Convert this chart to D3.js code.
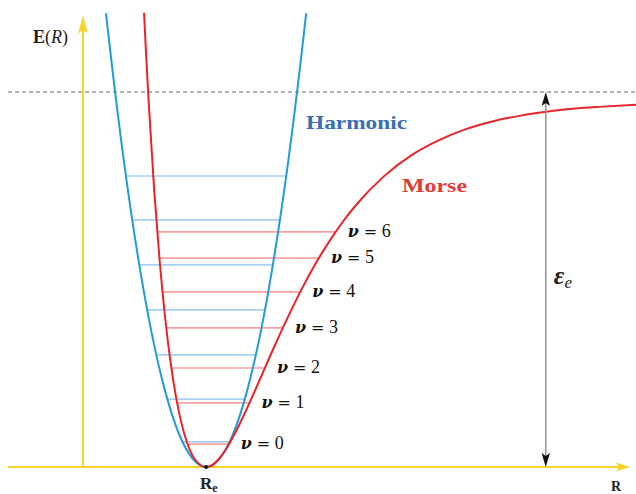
<!DOCTYPE html>
<html>
<head>
<meta charset="utf-8">
<script src="https://cdn.jsdelivr.net/npm/d3@7/dist/d3.min.js"></script>
<style>
  html, body { margin: 0; padding: 0; background: #fff; }
  svg { display: block; }
  text { font-family: "Liberation Serif", "DejaVu Serif", serif; }
</style>
</head>
<body>
<svg id="chart" width="636" height="494"></svg>
<script>
// Internuclear distance R (arbitrary units) and energy E in units of the well depth ε_e
const morseR = [1.116, 1.15, 1.2, 1.3, 1.4, 1.5, 1.6, 1.7, 1.8, 1.9, 2.0, 2.1, 2.2, 2.25,
                2.3, 2.4, 2.5, 2.6, 2.8, 3.0, 3.25, 3.5, 3.75, 4.0, 4.25, 4.5, 4.75, 5.0,
                5.5, 6.0, 6.5, 7.0, 7.5, 8.0, 8.5, 9.0, 9.5, 10.2];
const morseE = [1.211, 1.110, 0.975, 0.741, 0.552, 0.400, 0.280, 0.187, 0.117, 0.066, 0.031, 0.011, 0.001, 0,
                0.001, 0.009, 0.024, 0.044, 0.096, 0.157, 0.239, 0.322, 0.401, 0.475, 0.542, 0.601, 0.654, 0.700,
                0.775, 0.831, 0.871, 0.901, 0.922, 0.937, 0.948, 0.956, 0.961, 0.967];

const harmonicR = [0.42, 0.5, 0.75, 1.0, 1.25, 1.5, 1.75, 2.0, 2.25, 2.5, 2.75, 3.0, 3.25, 3.5, 3.75, 4.0, 4.08];
const harmonicE = [1.210, 1.107, 0.813, 0.565, 0.361, 0.203, 0.090, 0.023, 0, 0.023, 0.090, 0.203, 0.361, 0.565, 0.813, 1.107, 1.210];

// Vibrational energy levels
const harmonicLevels = [0.067, 0.181, 0.299, 0.419, 0.539, 0.659, 0.776];
const morseLevels = [0.061, 0.171, 0.264, 0.371, 0.467, 0.557, 0.627];
const quantumNumbers = ["0", "1", "2", "3", "4", "5", "6"];

const Re = 2.25;          // equilibrium distance
const dissociation = 1;   // energy of the dissociation limit
const epsArrowR = 8.46;   // where the well-depth arrow stands
const axisTopE = 1.205;
const axisLeftR = -1.37;

const svg = d3.select("#chart");
const W = 636, H = 494;

const x = d3.scaleLinear().domain([0, 10]).range([83, 630]);
const y = d3.scaleLinear().domain([0, 1]).range([467, 92]);

const yellow = "#fdd22b";
const blue = "#229bd6";
const red = "#e8242b";
const lightBlue = "#a6d1ef";
const lightRed = "#f6a2a2";

// R where a tabulated curve crosses energy e (first and last crossing)
function crossings(rs, es, e) {
  const hits = [];
  for (let i = 0; i < rs.length - 1; i++) {
    const a = es[i] - e, b = es[i + 1] - e;
    if (a === 0) hits.push(rs[i]);
    else if (a * b < 0) hits.push(rs[i] + (rs[i + 1] - rs[i]) * a / (a - b));
  }
  return [hits[0], hits[hits.length - 1]];
}

// Dissociation limit (dashed)
svg.append("line")
  .attr("x1", x(axisLeftR)).attr("x2", W)
  .attr("y1", y(dissociation)).attr("y2", y(dissociation))
  .attr("stroke", "#666").attr("stroke-width", 1.1)
  .attr("stroke-dasharray", "4,3");

// Axes
svg.append("line")
  .attr("x1", x(axisLeftR)).attr("x2", x(10) - 10)
  .attr("y1", y(0)).attr("y2", y(0))
  .attr("stroke", yellow).attr("stroke-width", 2);
svg.append("path")
  .attr("d", `M${x(10)},${y(0)} L${x(10) - 14},${y(0) - 4.5} L${x(10) - 11},${y(0)} L${x(10) - 14},${y(0) + 4.5} Z`)
  .attr("fill", yellow);

svg.append("line")
  .attr("x1", x(0)).attr("x2", x(0))
  .attr("y1", y(0)).attr("y2", y(axisTopE) + 12)
  .attr("stroke", yellow).attr("stroke-width", 2);
svg.append("path")
  .attr("d", `M${x(0)},${y(axisTopE)} L${x(0) - 4.8},${y(axisTopE) + 18} L${x(0)},${y(axisTopE) + 15} L${x(0) + 4.8},${y(axisTopE) + 18} Z`)
  .attr("fill", yellow);

// Energy levels
const hLevels = harmonicLevels.map(e => ({ e, r: crossings(harmonicR, harmonicE, e) }));
const mLevels = morseLevels.map((e, i) => ({ e, r: crossings(morseR, morseE, e), n: quantumNumbers[i] }));

svg.append("g").selectAll("line").data(hLevels).join("line")
  .attr("x1", d => x(d.r[0])).attr("x2", d => x(d.r[1]))
  .attr("y1", d => y(d.e)).attr("y2", d => y(d.e))
  .attr("stroke", lightBlue).attr("stroke-width", 1.6);

svg.append("g").selectAll("line").data(mLevels).join("line")
  .attr("x1", d => x(d.r[0])).attr("x2", d => x(d.r[1]))
  .attr("y1", d => y(d.e)).attr("y2", d => y(d.e))
  .attr("stroke", lightRed).attr("stroke-width", 1.6);

// Potential curves
const line = d3.line().x(d => x(d[0])).y(d => y(d[1])).curve(d3.curveMonotoneX);

svg.append("path")
  .datum(d3.zip(harmonicR, harmonicE))
  .attr("d", line)
  .attr("fill", "none").attr("stroke", blue).attr("stroke-width", 2);

svg.append("path")
  .datum(d3.zip(morseR, morseE))
  .attr("d", line)
  .attr("fill", "none").attr("stroke", red).attr("stroke-width", 2);

svg.append("circle")
  .attr("cx", x(Re)).attr("cy", y(0)).attr("r", 2)
  .attr("fill", "#111");

// Level labels ν = n
const labels = svg.append("g").selectAll("text").data(mLevels).join("text")
  .attr("x", d => x(d.r[1]) + 12)
  .attr("y", d => y(d.e) + 5)
  .attr("font-size", 18)
  .attr("fill", "#111");
labels.append("tspan")
  .attr("font-family", "DejaVu Serif").attr("font-size", 16)
  .attr("font-weight", "bold").attr("font-style", "italic")
  .text("ν");
labels.append("tspan")
  .attr("x", d => x(d.r[1]) + 28)
  .attr("font-family", "DejaVu Serif").attr("font-size", 16)
  .text("=");
labels.append("tspan")
  .attr("x", d => x(d.r[1]) + 46)
  .text(d => d.n);

// Well depth arrow
const arrowX = x(epsArrowR), arrowTop = y(dissociation), arrowBottom = y(0);
svg.append("line")
  .attr("x1", arrowX).attr("x2", arrowX)
  .attr("y1", arrowTop + 10).attr("y2", arrowBottom - 10)
  .attr("stroke", "#999").attr("stroke-width", 1.6);
svg.append("path")
  .attr("d", `M${arrowX},${arrowTop} L${arrowX - 4.2},${arrowTop + 14} L${arrowX},${arrowTop + 11} L${arrowX + 4.2},${arrowTop + 14} Z`)
  .attr("fill", "#111");
svg.append("path")
  .attr("d", `M${arrowX},${arrowBottom} L${arrowX - 4.2},${arrowBottom - 14} L${arrowX},${arrowBottom - 11} L${arrowX + 4.2},${arrowBottom - 14} Z`)
  .attr("fill", "#111");

const eps = svg.append("text")
  .attr("x", arrowX + 8).attr("y", (arrowTop + arrowBottom) / 2 + 4)
  .attr("fill", "#222");
eps.append("tspan")
  .attr("font-size", 26).attr("font-weight", "bold").attr("font-style", "italic")
  .text("ε");
eps.append("tspan")
  .attr("font-size", 17).attr("font-style", "italic").attr("dy", 4)
  .text("e");

// Curve names
svg.append("text")
  .attr("x", 306).attr("y", 129)
  .attr("font-size", 19).attr("font-weight", "bold")
  .attr("fill", "#3b6db4")
  .attr("textLength", 101).attr("lengthAdjust", "spacingAndGlyphs")
  .text("Harmonic");
svg.append("text")
  .attr("x", 402).attr("y", 192)
  .attr("font-size", 19).attr("font-weight", "bold")
  .attr("fill", "#e23a35")
  .attr("textLength", 65).attr("lengthAdjust", "spacingAndGlyphs")
  .text("Morse");

// Axis titles
const eTitle = svg.append("text")
  .attr("x", 33).attr("y", 43)
  .attr("font-size", 18).attr("fill", "#222");
eTitle.append("tspan").attr("font-weight", "bold").text("E");
eTitle.append("tspan").text("(");
eTitle.append("tspan").attr("font-style", "italic").text("R");
eTitle.append("tspan").text(")");

svg.append("text")
  .attr("x", 611).attr("y", 491)
  .attr("font-size", 14).attr("font-weight", "bold").attr("fill", "#222")
  .text("R");

const reLabel = svg.append("text")
  .attr("x", x(Re) - 6).attr("y", 489)
  .attr("font-size", 17).attr("font-weight", "bold").attr("fill", "#222");
reLabel.append("tspan").text("R");
reLabel.append("tspan").attr("font-size", 12).attr("dy", 3).text("e");
</script>
</body>
</html>
